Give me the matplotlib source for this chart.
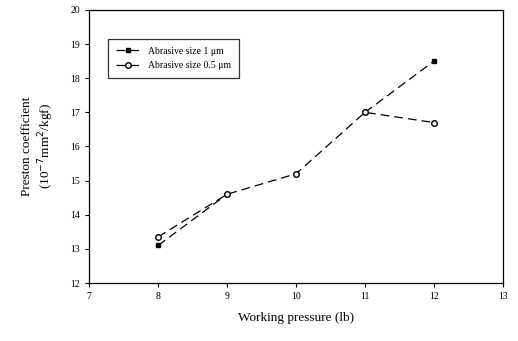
import matplotlib
matplotlib.use("Agg")
import matplotlib.pyplot as plt
from matplotlib.lines import Line2D

# working pressure (lb)
pressure = [8, 9, 10, 11, 12]
# Preston coefficient for the two abrasive sizes
size_a = [13.1, 14.6, 15.2, 17.0, 18.5]
size_b = [13.35, 14.6, 15.2, 17.0, 16.7]
labels = ["Abrasive size 1 \u03bcm", "Abrasive size 0.5 \u03bcm"]

plt.rcParams["font.family"] = ["Liberation Serif", "DejaVu Serif"]

fig = plt.figure(figsize=(5.18, 3.41), dpi=100)
ax = fig.add_axes([0.172, 0.170, 0.799, 0.801])

dash = (7, 4)
# open-marker series: full dashed line
ax.plot(pressure, size_b, color="black", lw=0.9, dashes=dash, zorder=2)
# filled-marker series: only the segments that do not overlap the other one,
# so the shared part stays dashed instead of merging into a solid line
for i in range(len(pressure) - 1):
    if size_a[i] != size_b[i] or size_a[i + 1] != size_b[i + 1]:
        ax.plot(pressure[i:i + 2], size_a[i:i + 2], color="black", lw=0.9,
                dashes=dash, zorder=2)

ax.plot(pressure, size_a, ls="none", marker="s", ms=3.5, mfc="black",
        mec="black", zorder=3)
ax.plot(pressure, size_b, ls="none", marker="o", ms=4, mfc="white",
        mec="black", zorder=4)

ax.set_xlim(7, 13)
ax.set_ylim(12, 20)
ax.set_xticks(range(7, 14))
ax.set_yticks(range(12, 21))
ax.tick_params(labelsize=7, length=3, width=0.8, direction="out")
for s in ax.spines.values():
    s.set_linewidth(0.9)

ax.set_xlabel("Working pressure (lb)", fontsize=9.5, labelpad=8)
ax.set_ylabel("Preston coefficient\n(10$^{-7}$mm$^{2}$/kgf)", fontsize=9.5,
              labelpad=10, linespacing=1.3)

handles = [
    Line2D([], [], color="black", lw=0.9, dashes=dash, marker="s", ms=3.5,
           mfc="black", mec="black"),
    Line2D([], [], color="black", lw=0.9, dashes=dash, marker="o", ms=4,
           mfc="white", mec="black"),
]
leg = ax.legend(handles, labels, loc="upper left",
                bbox_to_anchor=(0.034, 0.912), fontsize=7, frameon=True,
                fancybox=False, edgecolor="black", handlelength=2.5,
                borderpad=0.8, labelspacing=0.6)
leg.get_frame().set_linewidth(0.9)

fig.savefig("out.png", dpi=100)
